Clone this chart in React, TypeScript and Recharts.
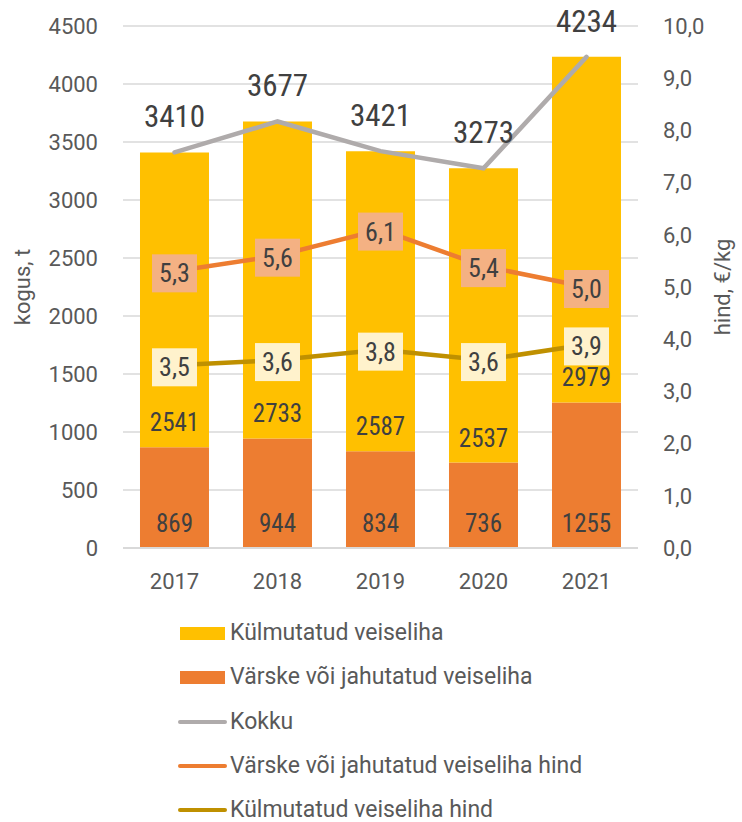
import React from 'react';
import { ComposedChart, Bar, Line, XAxis, YAxis, CartesianGrid, LabelList, Label } from 'recharts';

const years = ['2017', '2018', '2019', '2020', '2021'];
const freshQty = [869, 944, 834, 736, 1255];
const frozenQty = [2541, 2733, 2587, 2537, 2979];
const totalQty = [3410, 3677, 3421, 3273, 4234];
const freshPrice = [5.3, 5.6, 6.1, 5.4, 5.0];
const frozenPrice = [3.5, 3.6, 3.8, 3.6, 3.9];
const leftTicks = [0, 500, 1000, 1500, 2000, 2500, 3000, 3500, 4000, 4500];
const rightTicks = [0, 1, 2, 3, 4, 5, 6, 7, 8, 9, 10];

const seriesNames = {
  frozen: 'Külmutatud veiseliha',
  fresh: 'Värske või jahutatud veiseliha',
  total: 'Kokku',
  freshPrice: 'Värske või jahutatud veiseliha hind',
  frozenPrice: 'Külmutatud veiseliha hind',
};

const colors = {
  frozen: '#FFC000',
  fresh: '#ED7D31',
  total: '#AFABAB',
  freshPrice: '#ED7D31',
  frozenPrice: '#BF9000',
  freshPriceBox: '#F4B183',
  frozenPriceBox: '#FFF2CC',
};

const data = years.map((y, i) => ({
  year: y,
  fresh: freshQty[i],
  frozen: frozenQty[i],
  total: totalQty[i],
  freshPrice: freshPrice[i],
  frozenPrice: frozenPrice[i],
}));

const FONT = 'Roboto, sans-serif';
const fmtComma = (v: number) => v.toFixed(1).replace('.', ',');

const BarLabel = (props: any) => {
  const { x, y, width, height, value } = props;
  return (
    <text x={x + width / 2} y={y + height - 16} textAnchor="middle" fontSize={25} fill="#404040" fontFamily={FONT} style={{ fontStretch: '87%' }}>
      {value}
    </text>
  );
};

const TotalLabel = (props: any) => {
  const { x, y, value } = props;
  return (
    <text x={x} y={y - 25} textAnchor="middle" fontSize={31} fill="#404040" fontFamily={FONT} style={{ fontStretch: '81%' }}>
      {value}
    </text>
  );
};

const makePriceLabel = (boxColor: string) => (props: any) => {
  const { x, y, value } = props;
  return (
    <g>
      <rect x={x - 22.5} y={y - 17} width={45} height={38} fill={boxColor} />
      <text x={x} y={y + 11} textAnchor="middle" fontSize={26} fill="#404040" fontFamily={FONT} style={{ fontStretch: '87%' }}>
        {fmtComma(value)}
      </text>
    </g>
  );
};

const XTick = (props: any) => {
  const { x, y, payload } = props;
  return (
    <text x={x} y={y + 41} textAnchor="middle" fontSize={22} fill="#595959" fontFamily={FONT} style={{ fontStretch: '92%' }}>
      {payload.value}
    </text>
  );
};

const legendItems = [
  { key: 'frozen', type: 'rect' },
  { key: 'fresh', type: 'rect' },
  { key: 'total', type: 'line' },
  { key: 'freshPrice', type: 'line' },
  { key: 'frozenPrice', type: 'line' },
];

const tickStyle = { fontSize: 22, fill: '#595959', fontFamily: FONT, style: { fontStretch: '92%' } };

export default function App() {
  return (
    <div style={{ position: 'relative', width: 742, height: 822, fontFamily: FONT, background: '#fff' }}>
      <style>{'body{margin:0;}'}</style>
      <ComposedChart width={742} height={600} data={data} margin={{ top: 26, right: 0, left: 0, bottom: 0 }} barCategoryGap="16.5%">
        <CartesianGrid vertical={false} stroke="#D9D9D9" strokeWidth={1.5} />
        <XAxis dataKey="year" height={52} tickSize={0} tickMargin={0} axisLine={{ stroke: '#D9D9D9', strokeWidth: 2 }} tickLine={false} tick={<XTick />} interval={0} />
        <YAxis
          width={123}
          domain={[0, 4500]}
          ticks={leftTicks}
          axisLine={false}
          tickLine={false}
          tickSize={0}
          tickMargin={25}
          interval={0}
          tick={tickStyle}
        >
          <Label
            content={(p: any) => {
              const vb = p.viewBox;
              const cx = 22;
              const cy = vb.y + vb.height / 2;
              return (
                <text x={cx} y={cy} transform={`rotate(-90 ${cx} ${cy})`} textAnchor="middle" dominantBaseline="central" fontSize={22} fill="#595959" fontFamily={FONT} style={{ fontStretch: '92%' }}>
                  kogus, t
                </text>
              );
            }}
          />
        </YAxis>
        <YAxis
          yAxisId="right"
          orientation="right"
          width={104}
          domain={[0, 10]}
          ticks={rightTicks}
          axisLine={false}
          tickLine={false}
          tickSize={0}
          tickMargin={25}
          interval={0}
          tickFormatter={fmtComma}
          tick={tickStyle}
        >
          <Label
            content={(p: any) => {
              const vb = p.viewBox;
              const cx = 722;
              const cy = vb.y + vb.height / 2;
              return (
                <text x={cx} y={cy} transform={`rotate(-90 ${cx} ${cy})`} textAnchor="middle" dominantBaseline="central" fontSize={22} fill="#595959" fontFamily={FONT} style={{ fontStretch: '92%' }}>
                  hind, €/kg
                </text>
              );
            }}
          />
        </YAxis>
        <Bar dataKey="fresh" name={seriesNames.fresh} stackId="a" fill={colors.fresh} isAnimationActive={false}>
          <LabelList dataKey="fresh" content={<BarLabel />} />
        </Bar>
        <Bar dataKey="frozen" name={seriesNames.frozen} stackId="a" fill={colors.frozen} isAnimationActive={false}>
          <LabelList dataKey="frozen" content={<BarLabel />} />
        </Bar>
        <Line dataKey="total" name={seriesNames.total} stroke={colors.total} strokeWidth={4.5} strokeLinecap="round" dot={false} isAnimationActive={false}>
          <LabelList dataKey="total" content={<TotalLabel />} />
        </Line>
        <Line yAxisId="right" dataKey="freshPrice" name={seriesNames.freshPrice} stroke={colors.freshPrice} strokeWidth={4.5} strokeLinecap="round" dot={false} isAnimationActive={false}>
          <LabelList dataKey="freshPrice" content={makePriceLabel(colors.freshPriceBox)} />
        </Line>
        <Line yAxisId="right" dataKey="frozenPrice" name={seriesNames.frozenPrice} stroke={colors.frozenPrice} strokeWidth={4.5} strokeLinecap="round" dot={false} isAnimationActive={false}>
          <LabelList dataKey="frozenPrice" content={makePriceLabel(colors.frozenPriceBox)} />
        </Line>
      </ComposedChart>
      {legendItems.map((item, i) => {
        const cy = 633 + i * 44.3;
        const c = (colors as any)[item.key];
        return (
          <div key={item.key} style={{ position: 'absolute', left: 0, top: cy - 15, height: 30 }}>
            {item.type === 'rect' ? (
              <div style={{ position: 'absolute', left: 180, top: 15 - 6.5, width: 45, height: 13, background: c }} />
            ) : (
              <div style={{ position: 'absolute', left: 178, top: 15 - 2, width: 49, height: 4, borderRadius: 2, background: c }} />
            )}
            <span style={{ position: 'absolute', left: 230, top: 0, lineHeight: '30px', whiteSpace: 'nowrap', fontSize: 23, color: '#595959', fontStretch: '92%' }}>
              {(seriesNames as any)[item.key]}
            </span>
          </div>
        );
      })}
    </div>
  );
}
